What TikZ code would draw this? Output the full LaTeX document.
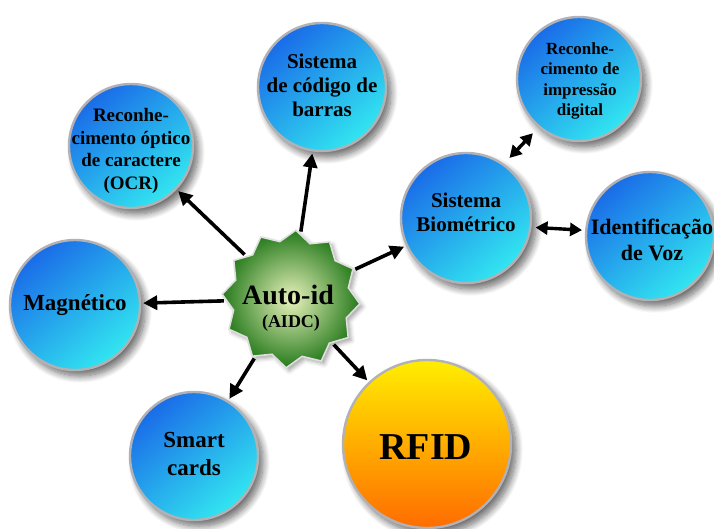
\documentclass[tikz,border=0pt]{standalone}
\usepackage{fontspec}
\setmainfont{Liberation Serif}
\usetikzlibrary{shapes.geometric,arrows.meta,shadows.blur}
\definecolor{blueA}{RGB}{26,108,232}
\definecolor{blueB}{RGB}{50,230,240}
\definecolor{yelA}{RGB}{255,238,0}
\definecolor{orgB}{RGB}{255,108,0}
\definecolor{grnIn}{RGB}{232,242,188}
\definecolor{grnOut}{RGB}{38,122,28}
\definecolor{rim}{RGB}{178,178,182}
\begin{document}
\begin{tikzpicture}[x=1pt,y=-1pt,
  softshadow/.style={blur shadow={shadow xshift=5pt, shadow yshift=-6pt,
      shadow blur radius=7pt, shadow blur steps=12, shadow opacity=60}},
  bubble/.style={circle, inner sep=0pt, draw=rim, line width=2.4pt,
      top color=blueA, bottom color=blueB, shading angle=40, softshadow},
  sunbubble/.style={circle, inner sep=0pt, draw=rim, line width=2.4pt,
      top color=yelA, bottom color=orgB, softshadow},
  badge/.style={star, star points=12, star point ratio=1.18, inner sep=0pt,
      minimum size=138pt, shape border rotate=-4, draw=gray!25, line width=1.6pt,
      inner color=grnIn, outer color=grnOut,
      blur shadow={shadow xshift=3pt, shadow yshift=-3pt, shadow blur radius=4pt, shadow opacity=35}},
  txt/.style={align=center, inner sep=0pt, text=black},
  fs/.style 2 args={font=\fontsize{#1}{#2}\selectfont\bfseries},
  link/.style={line width=3.6pt, -{Triangle[length=14pt,width=14pt]},
      shorten >=2pt, shorten <=2pt},
  dlink/.style={line width=3.4pt, {Triangle[length=12pt,width=13pt]}-{Triangle[length=12pt,width=13pt]}}
]
\useasboundingbox (0,0) rectangle (714,529);

% outer circles
\node[bubble, minimum size=128pt] (cod)   at (322,87)  {};
\node[bubble, minimum size=124pt] (ocr)   at (131,146) {};
\node[bubble, minimum size=124pt] (dig)   at (579,79)  {};
\node[bubble, minimum size=130pt] (bio)   at (466,218) {};
\node[bubble, minimum size=128pt] (voz)   at (650,236) {};
\node[bubble, minimum size=130pt] (mag)   at (75,305)  {};
\node[bubble, minimum size=128pt] (smart) at (194,456) {};
\node[sunbubble, minimum size=168pt] (rfid) at (427,444) {};

% central badge
\node[badge] (hub) at (291,299) {};

% labels
\node[txt, fs={21}{24}] (cod-t)   at (322,85)  {Sistema\\de código de\\barras};
\node[txt, fs={19}{22.5}] (ocr-t) at (131,151) {Reconhe-\\cimento óptico\\de caractere\\(OCR)};
\node[txt, fs={17}{20.5}] (dig-t) at (580,81)  {Reconhe-\\cimento de\\impressão\\digital};
\node[txt, fs={21}{24}] (bio-t)   at (466,212) {Sistema\\Biométrico};
\node[txt, fs={22}{26}] (voz-t)   at (652,240) {Identificação\\de Voz};
\node[txt, fs={23}{27}] (mag-t)   at (75,305)  {Magnético};
\node[txt, fs={23}{28}] (smart-t) at (194,454) {Smart\\cards};
\node[txt, fs={38}{44}] (rfid-t)  at (426,447) {RFID};
\node[txt, fs={28}{32}] (hub-t)   at (288,295) {Auto-id};
\node[txt, fs={18}{21}] (hub-s)   at (291,323) {(AIDC)};

% connectors
\draw[link] (hub) -- (ocr);
\draw[link] (hub) -- (cod);
\draw[link] (hub) -- (bio);
\draw[link] (hub) -- (mag);
\draw[link] (hub) -- (smart);
\draw[link] (hub) -- (rfid);
\draw[dlink, shorten <=8pt, shorten >=8pt] (bio.55) -- (dig.230);
\draw[dlink, shorten <=4pt, shorten >=3pt] (bio.-8) -- (voz.175);
\end{tikzpicture}
\end{document}
